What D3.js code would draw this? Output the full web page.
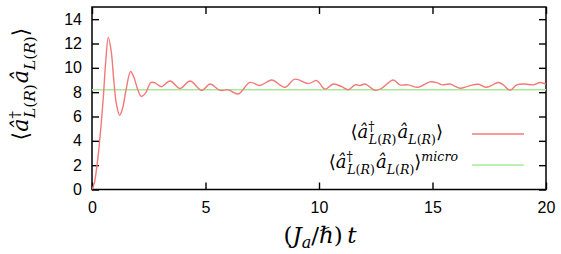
<!DOCTYPE html>
<html>
<head>
<meta charset="utf-8">
<script src="https://cdn.jsdelivr.net/npm/d3@7"></script>
<style>
body { margin: 0; background: #fff; }
</style>
</head>
<body>
<div id="chart"></div>
<script>
var width = 561;
var height = 254;

// time axis (J_a/hbar) t
var tVals = [0, 0.1, 0.2, 0.3, 0.4, 0.5, 0.6, 0.72, 0.85, 0.95, 1.07, 1.22, 1.35, 1.5, 1.7, 1.85, 2.0, 2.17, 2.35, 2.6,
  2.8, 3.05, 3.44, 3.88, 4.32, 4.83, 5.2, 5.64, 6.0, 6.44, 6.96, 7.4, 7.92, 8.5, 8.94, 9.53, 9.9, 10.26, 10.63, 11.0,
  11.29, 11.59, 11.81, 12.03, 12.47, 12.76, 13.27, 13.57, 13.93, 14.37, 14.89, 15.19, 15.41, 15.77, 16.21, 16.58,
  17.02, 17.39, 17.9, 18.12, 18.41, 18.71, 19.07, 19.44, 19.74, 20.0];
// <a+ a> occupation
var nVals = [0, 0.5, 1.7, 3.3, 5.3, 7.6, 10.4, 12.5, 11.3, 9.2, 7.1, 6.1, 6.7, 8.2, 9.7, 9.2, 8.3, 7.65, 7.9, 8.8,
  8.75, 8.45, 8.92, 8.3, 8.92, 8.15, 8.67, 8.15, 8.2, 7.85, 8.8, 8.55, 9.0, 8.4, 9.07, 8.7, 8.95, 8.25, 8.67, 8.45,
  8.2, 8.6, 8.55, 8.67, 8.15, 8.32, 9.0, 8.6, 8.6, 8.4, 8.85, 8.78, 8.6, 8.67, 8.32, 8.5,
  8.65, 8.4, 8.8, 8.6, 8.15, 8.6, 8.67, 8.6, 8.8, 8.67];
var microVal = 8.2;

var xTicks = [0, 5, 10, 15, 20];
var yTicks = [0, 2, 4, 6, 8, 10, 12, 14];

var redColor = "#f47878";
var greenColor = "#a6ec98";
var mathFont = "'DejaVu Serif', 'Liberation Serif', serif";

var svg = d3.select("#chart")
    .append("svg")
    .attr("width", width)
    .attr("height", height)
    .style("font-family", "'Liberation Sans', Arial, sans-serif");

var x = d3.scaleLinear().domain([0, 20]).range([92, 546]);
var y = d3.scaleLinear().domain([0, 15]).range([189.5, 7]);

// axes, ticks pointing inward on every side
function styleAxis(g) {
  g.select(".domain").remove();
  g.selectAll(".tick line").attr("stroke", "#000").attr("stroke-width", 1.4);
  g.selectAll(".tick text").attr("fill", "#000").style("font-size", "16px");
}

svg.append("g")
  .attr("transform", "translate(0," + y(0) + ")")
  .call(d3.axisBottom(x).tickValues(xTicks).tickSizeInner(-7).tickSizeOuter(0).tickPadding(12))
  .call(styleAxis);

svg.append("g")
  .attr("transform", "translate(0," + y(15) + ")")
  .call(d3.axisTop(x).tickValues(xTicks).tickSizeInner(-7).tickSizeOuter(0).tickFormat(""))
  .call(styleAxis);

svg.append("g")
  .attr("transform", "translate(" + x(0) + ",0)")
  .call(d3.axisLeft(y).tickValues(yTicks).tickSizeInner(-7).tickSizeOuter(0).tickPadding(10))
  .call(styleAxis);

svg.append("g")
  .attr("transform", "translate(" + x(20) + ",0)")
  .call(d3.axisRight(y).tickValues(yTicks).tickSizeInner(-7).tickSizeOuter(0).tickFormat(""))
  .call(styleAxis);

svg.append("rect")
  .attr("x", x(0)).attr("y", y(15))
  .attr("width", x(20) - x(0)).attr("height", y(0) - y(15))
  .attr("fill", "none").attr("stroke", "#000").attr("stroke-width", 1.5);

// data
svg.append("clipPath").attr("id", "plotclip")
  .append("rect")
  .attr("x", x(0)).attr("y", y(15))
  .attr("width", x(20) - x(0)).attr("height", y(0) - y(15));

svg.append("line")
  .attr("x1", x(0)).attr("x2", x(20))
  .attr("y1", y(microVal)).attr("y2", y(microVal))
  .attr("stroke", greenColor).attr("stroke-width", 1.3);

var line = d3.line()
  .x(function(d, i) { return x(tVals[i]); })
  .y(function(d) { return y(d); })
  .curve(d3.curveCatmullRom.alpha(0.5));

svg.append("path")
  .datum(nVals)
  .attr("clip-path", "url(#plotclip)")
  .attr("d", line)
  .attr("fill", "none")
  .attr("stroke", redColor)
  .attr("stroke-width", 1.4);

// subscript L(R), italic letters, upright parens
function subLR(text, s, dx, dy) {
  text.append("tspan").style("font-size", s + "px").style("font-style", "italic")
    .attr("dx", dx).attr("dy", dy).text("L");
  text.append("tspan").style("font-size", s + "px").text("(");
  text.append("tspan").style("font-size", s + "px").style("font-style", "italic").text("R");
  text.append("tspan").style("font-size", s + "px").text(")");
}

// <a^dagger_{L(R)} a_{L(R)}> with optional superscript
function braket(text, size, sup) {
  var s = size * 0.7;
  text.style("font-family", mathFont)
    .style("font-size", size + "px");
  text.append("tspan").text("\u27E8");
  text.append("tspan").style("font-style", "italic").text("\u00E2");
  text.append("tspan").style("font-size", s + "px").attr("dy", -size * 0.38).text("\u2020");
  subLR(text, s, -s * 0.45, size * 0.7);
  text.append("tspan").style("font-style", "italic").attr("dx", 1).attr("dy", -size * 0.32).text("\u00E2");
  subLR(text, s, 0, size * 0.32);
  text.append("tspan").attr("dy", -size * 0.32).text("\u27E9");
  if (sup) {
    text.append("tspan").style("font-size", s + "px").style("font-style", "italic")
      .attr("dy", -size * 0.4).text(sup);
  }
}

svg.append("text")
  .attr("transform", "translate(28,84) rotate(-90)")
  .attr("text-anchor", "middle")
  .call(braket, 22, null);

svg.append("text")
  .attr("x", 443).attr("y", 138)
  .attr("text-anchor", "end")
  .call(braket, 18, null);

svg.append("text")
  .attr("x", 458).attr("y", 168)
  .attr("text-anchor", "end")
  .call(braket, 18, "micro");

svg.append("line")
  .attr("x1", 472).attr("x2", 524).attr("y1", 134).attr("y2", 134)
  .attr("stroke", redColor).attr("stroke-width", 1.3);
svg.append("line")
  .attr("x1", 472).attr("x2", 524).attr("y1", 165).attr("y2", 165)
  .attr("stroke", greenColor).attr("stroke-width", 1.3);

// x label (J_a / hbar) t
var xl = svg.append("text")
  .attr("x", 320).attr("y", 243)
  .attr("text-anchor", "middle")
  .style("font-family", mathFont)
  .style("font-size", "23px");
xl.append("tspan").text("(");
xl.append("tspan").style("font-style", "italic").text("J");
xl.append("tspan").style("font-style", "italic").style("font-size", "16px").attr("dy", 5).text("a");
xl.append("tspan").attr("dy", -5).text("/\u210F)\u2009");
xl.append("tspan").style("font-style", "italic").text("t");
</script>
</body>
</html>
